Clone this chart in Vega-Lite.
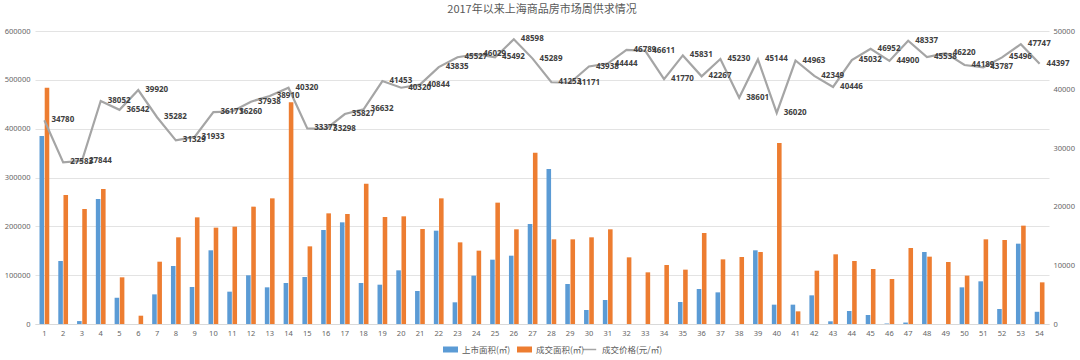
{
  "$schema": "https://vega.github.io/schema/vega-lite/v6.json",
  "width": 1014,
  "height": 293,
  "autosize": {"type": "none"},
  "padding": {"left": 35, "top": 31, "right": 31, "bottom": 36},
  "background": "#ffffff",
  "config": {
    "view": {"stroke": null},
    "font": "Noto Sans",
    "axis": {"labelFont": "Noto Sans", "labelColor": "#666666", "labelFontSize": 7.5, "ticks": false, "domain": false, "title": null},
    "legend": {"labelFont": "Noto Sans CJK SC", "labelColor": "#595959", "labelFontSize": 8.5, "title": null}
  },
  "title": {"text": "2017年以来上海商品房市场周供求情况", "font": "Noto Sans CJK SC", "fontSize": 11, "fontWeight": "normal", "color": "#595959", "anchor": "middle", "offset": 12},
  "data": {"values": [
    {"week": 1, "supply": 385000, "deal": 484000, "price": 34780},
    {"week": 2, "supply": 129000, "deal": 264000, "price": 27583},
    {"week": 3, "supply": 6000, "deal": 235500, "price": 27844},
    {"week": 4, "supply": 256000, "deal": 276500, "price": 38052},
    {"week": 5, "supply": 54000, "deal": 95600, "price": 36542},
    {"week": 6, "supply": 0, "deal": 17000, "price": 39920},
    {"week": 7, "supply": 60700, "deal": 127600, "price": 35282},
    {"week": 8, "supply": 118800, "deal": 177500, "price": 31329},
    {"week": 9, "supply": 75800, "deal": 218400, "price": 31933},
    {"week": 10, "supply": 150900, "deal": 197300, "price": 36171},
    {"week": 11, "supply": 66200, "deal": 199300, "price": 36260},
    {"week": 12, "supply": 99700, "deal": 240300, "price": 37938},
    {"week": 13, "supply": 75100, "deal": 257300, "price": 38910},
    {"week": 14, "supply": 84000, "deal": 454000, "price": 40320},
    {"week": 15, "supply": 96300, "deal": 159000, "price": 33377},
    {"week": 16, "supply": 192500, "deal": 226600, "price": 33298},
    {"week": 17, "supply": 208200, "deal": 225300, "price": 35827},
    {"week": 18, "supply": 84000, "deal": 287400, "price": 36632},
    {"week": 19, "supply": 80500, "deal": 219100, "price": 41453},
    {"week": 20, "supply": 109900, "deal": 220500, "price": 40320},
    {"week": 21, "supply": 67600, "deal": 194500, "price": 40844},
    {"week": 22, "supply": 191100, "deal": 257300, "price": 43835},
    {"week": 23, "supply": 44400, "deal": 167200, "price": 45527},
    {"week": 24, "supply": 99000, "deal": 150200, "price": 46029},
    {"week": 25, "supply": 131700, "deal": 248500, "price": 45492},
    {"week": 26, "supply": 139900, "deal": 193900, "price": 48598},
    {"week": 27, "supply": 204800, "deal": 350900, "price": 45289},
    {"week": 28, "supply": 317400, "deal": 173400, "price": 41253},
    {"week": 29, "supply": 81900, "deal": 173400, "price": 41171},
    {"week": 30, "supply": 28700, "deal": 177500, "price": 43938},
    {"week": 31, "supply": 49100, "deal": 193900, "price": 44444},
    {"week": 32, "supply": 0, "deal": 136500, "price": 46789},
    {"week": 33, "supply": 0, "deal": 105800, "price": 46611},
    {"week": 34, "supply": 0, "deal": 120800, "price": 41770},
    {"week": 35, "supply": 45000, "deal": 111300, "price": 45831},
    {"week": 36, "supply": 71700, "deal": 186400, "price": 42267},
    {"week": 37, "supply": 64800, "deal": 132400, "price": 45230},
    {"week": 38, "supply": 0, "deal": 137200, "price": 38601},
    {"week": 39, "supply": 150900, "deal": 147400, "price": 45144},
    {"week": 40, "supply": 39600, "deal": 370700, "price": 36020},
    {"week": 41, "supply": 39600, "deal": 25900, "price": 44963},
    {"week": 42, "supply": 58700, "deal": 109200, "price": 42349},
    {"week": 43, "supply": 5500, "deal": 142700, "price": 40446},
    {"week": 44, "supply": 26600, "deal": 129000, "price": 45032},
    {"week": 45, "supply": 18400, "deal": 112600, "price": 46952},
    {"week": 46, "supply": 1000, "deal": 92200, "price": 44900},
    {"week": 47, "supply": 3000, "deal": 155600, "price": 48337},
    {"week": 48, "supply": 147400, "deal": 137900, "price": 45538},
    {"week": 49, "supply": 0, "deal": 127000, "price": 46220},
    {"week": 50, "supply": 75100, "deal": 99000, "price": 44189},
    {"week": 51, "supply": 87400, "deal": 173400, "price": 43787},
    {"week": 52, "supply": 30700, "deal": 172000, "price": 45496},
    {"week": 53, "supply": 164500, "deal": 201400, "price": 47747},
    {"week": 54, "supply": 25000, "deal": 85300, "price": 44397}
  ]},
  "encoding": {
    "x": {"field": "week", "type": "ordinal", "scale": {"paddingInner": 0.48, "paddingOuter": 0.24},
      "axis": {"labelAngle": 0, "domain": true, "domainColor": "#D9D9D9", "labelPadding": 5, "labelFontSize": 7.5}}
  },
  "layer": [
    {
      "transform": [{"fold": ["supply", "deal"], "as": ["series", "area"]}],
      "mark": {"type": "bar"},
      "encoding": {
        "xOffset": {"field": "series", "type": "nominal", "sort": ["supply", "deal"], "scale": {"paddingInner": 0.12}},
        "y": {"field": "area", "type": "quantitative", "scale": {"domain": [0, 600000], "nice": false},
          "axis": {"orient": "left", "values": [0, 100000, 200000, 300000, 400000, 500000, 600000], "grid": true, "gridColor": "#E3E3E3", "labelPadding": 5, "format": "d"}},
        "color": {"field": "series", "type": "nominal", "scale": {"domain": ["supply", "deal"], "range": ["#5B9BD5", "#ED7D31"]},
          "legend": {"orient": "none", "legendX": 408, "legendY": 311, "direction": "horizontal", "symbolType": "M-1,-0.4H1V0.4H-1Z", "symbolSize": 225, "symbolStrokeWidth": 0, "labelOffset": 4, "columnPadding": 6,
            "labelExpr": "datum.label == 'supply' ? '上市面积(㎡)' : '成交面积(㎡)'"}}
      }
    },
    {
      "layer": [
        {
          "mark": {"type": "line", "strokeWidth": 2.2},
          "encoding": {
            "y": {"field": "price", "type": "quantitative", "scale": {"domain": [0, 50000], "nice": false},
              "axis": {"orient": "right", "values": [0, 5000, 10000, 15000, 20000, 25000, 30000, 35000, 40000, 45000, 50000], "grid": false, "labelPadding": 4, "format": "d"}},
            "stroke": {"datum": "成交价格(元/㎡)", "type": "nominal", "scale": {"range": ["#A5A5A5"]},
              "legend": {"orient": "none", "legendX": 547, "legendY": 311, "symbolType": "stroke", "symbolSize": 180, "symbolStrokeWidth": 1.5, "labelOffset": 5}}
          }
        },
        {
          "mark": {"type": "text", "align": "left", "baseline": "middle", "dx": 7, "fontSize": 8, "fontWeight": "bold", "color": "#404040", "font": "Noto Sans"},
          "encoding": {
            "y": {"field": "price", "type": "quantitative", "scale": {"domain": [0, 50000], "nice": false}},
            "text": {"field": "price", "type": "quantitative", "format": "d"}
          }
        }
      ]
    }
  ],
  "resolve": {"scale": {"y": "independent", "color": "independent"}}
}
